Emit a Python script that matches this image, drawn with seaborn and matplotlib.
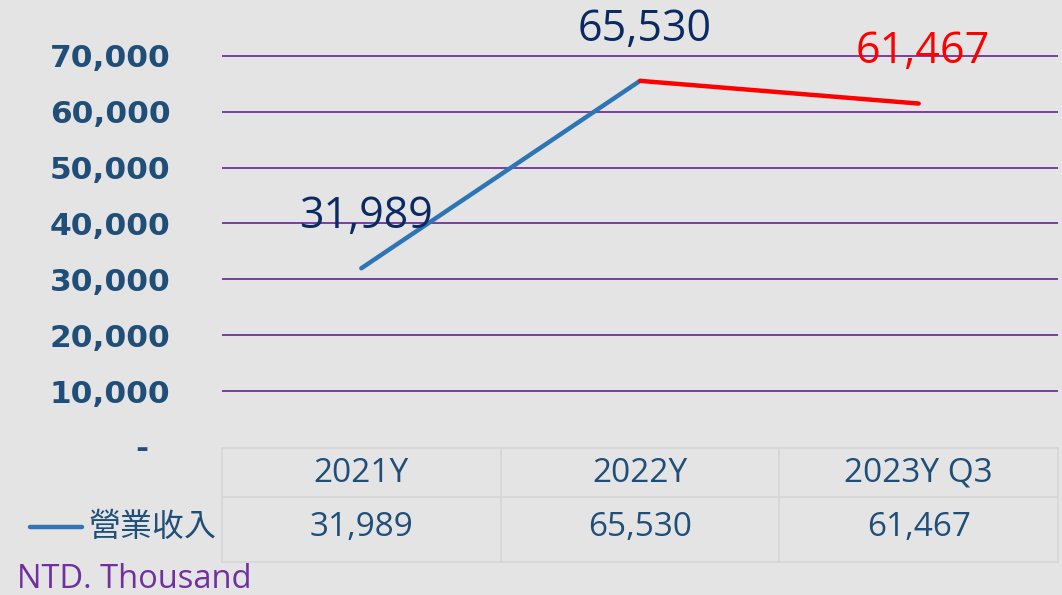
import pandas as pd
import matplotlib.pyplot as plt
from matplotlib.lines import Line2D
import seaborn as sns

# chart data
categories = ['2021Y', '2022Y', '2023Y Q3']
revenue = [31989, 65530, 61467]
series_name = '營業收入'
unit_note = 'NTD. Thousand'
y_ticks = [0, 10000, 20000, 30000, 40000, 50000, 60000, 70000]

sns.set_style('white')
plt.rcParams['font.family'] = ['Open Sans', 'Noto Sans CJK TC', 'DejaVu Sans']

W, H = 1062, 595
bg = '#e4e4e4'
tick_col = '#1F4E79'
navy = '#0B2A63'
blue = '#2E75B6'
red = '#FF0000'
purple = '#7030A0'

fig = plt.figure(figsize=(W / 100, H / 100), dpi=100, facecolor=bg)
ax = fig.add_axes([222 / W, 1 - 447 / H, (1058 - 222) / W, 447 / H])
ax.set_facecolor('none')

# two segments: growth in blue, latest period in red
pos = list(range(len(categories)))
seg = pd.DataFrame({
    'x': [pos[0], pos[1], pos[1], pos[2]],
    'y': [revenue[0], revenue[1], revenue[1], revenue[2]],
    'part': ['a', 'a', 'b', 'b'],
})
sns.lineplot(data=seg, x='x', y='y', hue='part', palette=[blue, red],
             linewidth=3.2, legend=False, ax=ax, solid_capstyle='round')

ax.set_xlim(-0.5, len(categories) - 0.5)
ax.set_ylim(0, 80000)
ax.hlines(y_ticks[1:], -0.5, len(categories) - 0.5, color=purple,
          linewidth=1.3, zorder=0)

ax.set_yticks(y_ticks)
ax.set_yticklabels(['-  ' if v == 0 else f'{v:,}' for v in y_ticks],
                   fontfamily='DejaVu Sans', fontweight='bold',
                   fontsize=22.5, color=tick_col)
ax.tick_params(axis='y', length=0, pad=37)
ax.set_xticks([])
ax.set_xlabel('')
ax.set_ylabel('')
for s in ax.spines.values():
    s.set_visible(False)

# point labels
label_cols = [navy, navy, red]
for x, v, c in zip(pos, revenue, label_cols):
    ax.annotate(f'{v:,}', (x, v), xytext=(3, 37), textcoords='offset points',
                ha='center', va='center', fontsize=31, color=c)

# data table under the chart
for x, cat, v in zip(pos, categories, revenue):
    ax.text(x, -26 / 447, cat, transform=ax.get_xaxis_transform(),
            ha='center', va='center', fontsize=24, color=tick_col, clip_on=False)
    ax.text(x, -81 / 447, f'{v:,}', transform=ax.get_xaxis_transform(),
            ha='center', va='center', fontsize=24, color=tick_col, clip_on=False)

grid_c = '#d6d6d6'
for yy in [448, 497, 562]:
    fig.add_artist(Line2D([222 / W, 1058 / W], [1 - yy / H] * 2,
                          color=grid_c, linewidth=1.2))
for xx in [222, 501, 779, 1058]:
    fig.add_artist(Line2D([xx / W] * 2, [1 - 448 / H, 1 - 562 / H],
                          color=grid_c, linewidth=1.2))

# legend key in the table row
fig.add_artist(Line2D([30 / W, 82 / W], [1 - 527 / H] * 2, color=blue,
                      linewidth=3.2, solid_capstyle='round'))
fig.text(89 / W, 1 - 527 / H, series_name, ha='left', va='center',
         fontsize=23, color=tick_col, fontfamily=['Noto Sans CJK TC'])

fig.text(17 / W, 1 - 579 / H, unit_note, ha='left', va='center',
         fontsize=23.5, color=purple)

fig.savefig('out.png', dpi=100, facecolor=bg)
